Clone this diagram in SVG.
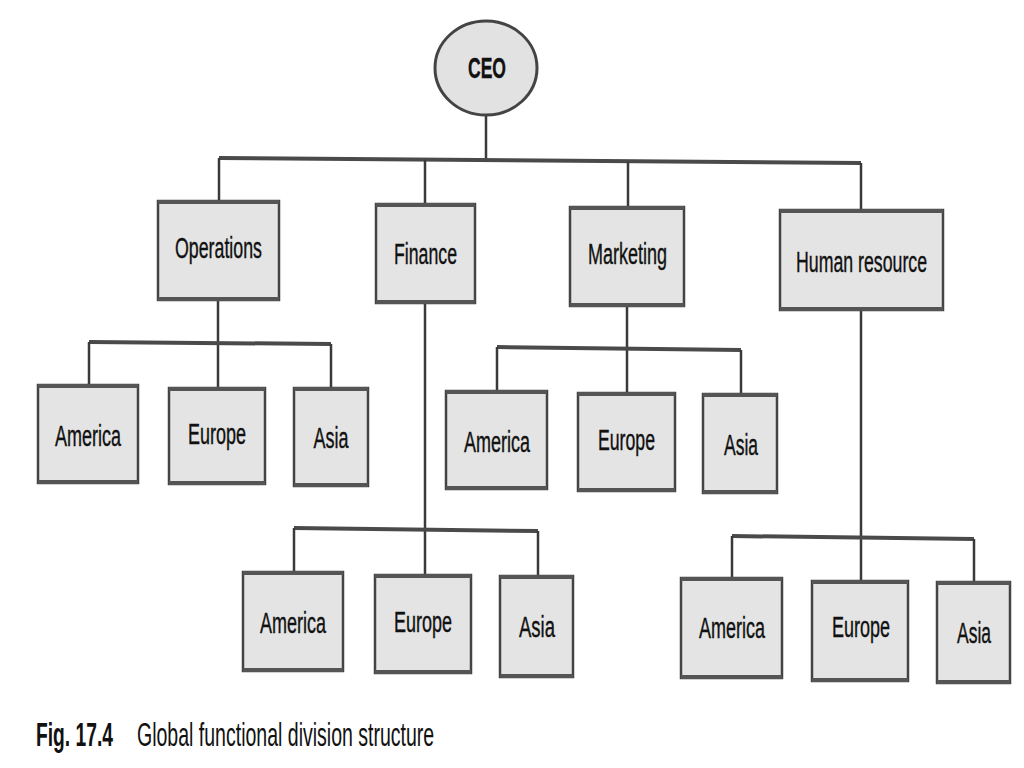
<svg xmlns="http://www.w3.org/2000/svg" width="1024" height="768" viewBox="0 0 1024 768">
<style>
.box{fill:#e4e4e4;stroke:#444;stroke-width:2.5}
.edge{stroke:#555;stroke-width:4;fill:none}
.ceo{fill:#e2e2e2;stroke:#444;stroke-width:3}
.lbl{font-family:"Liberation Sans",Arial,sans-serif;font-size:30px;fill:#111;stroke:#111;stroke-width:0.4}
.bold{font-weight:bold}
.con{stroke:#3a3a3a;stroke-width:2.5;fill:none}
.bus{stroke:#4a4a4a;stroke-width:4;fill:none}
.cap{font-family:"Liberation Sans",Arial,sans-serif;font-size:34px;fill:#111}
</style>
<rect width="1024" height="768" fill="#ffffff"/>
<g id="connectors">
<path class="con" d="M486 115 V160"/>
<path class="bus" d="M219 158 L861 163"/>
<path class="con" d="M219 158 V201 M425 160 V204 M628 162 V207 M861 163 V210"/>
<path class="con" d="M218 300 V388"/>
<path class="bus" d="M89 342 L331 344"/>
<path class="con" d="M89 342 V385 M331 344 V388"/>
<path class="con" d="M425 303 V575"/>
<path class="bus" d="M294 528 L538 531"/>
<path class="con" d="M294 528 V572 M538 531 V576"/>
<path class="con" d="M627 306 V393"/>
<path class="bus" d="M497 347 L741 350"/>
<path class="con" d="M497 347 V391 M741 350 V394"/>
<path class="con" d="M861 310 V581"/>
<path class="bus" d="M732 536 L974 539"/>
<path class="con" d="M732 536 V578 M974 539 V582"/>
</g>
<g id="ceo">
<ellipse class="ceo" cx="486" cy="68" rx="51" ry="47"/>
<text class="lbl bold" x="487" y="78" text-anchor="middle" textLength="38" lengthAdjust="spacingAndGlyphs">CEO</text>
</g>
<g id="operations">
<rect class="box" x="158" y="201" width="121" height="99"/>
<path class="edge" d="M158 202 H279 M158 299 H279"/>
<text class="lbl" x="218.5" y="258" text-anchor="middle" textLength="87" lengthAdjust="spacingAndGlyphs">Operations</text>
</g>
<g id="finance">
<rect class="box" x="376" y="204" width="99" height="99"/>
<path class="edge" d="M376 205 H475 M376 302 H475"/>
<text class="lbl" x="425.5" y="264" text-anchor="middle" textLength="63" lengthAdjust="spacingAndGlyphs">Finance</text>
</g>
<g id="marketing">
<rect class="box" x="570" y="207" width="114" height="99"/>
<path class="edge" d="M570 208 H684 M570 305 H684"/>
<text class="lbl" x="627.5" y="264" text-anchor="middle" textLength="79" lengthAdjust="spacingAndGlyphs">Marketing</text>
</g>
<g id="human-resource">
<rect class="box" x="780" y="210" width="163" height="100"/>
<path class="edge" d="M780 211 H943 M780 309 H943"/>
<text class="lbl" x="861.5" y="272" text-anchor="middle" textLength="131" lengthAdjust="spacingAndGlyphs">Human resource</text>
</g>
<g id="ops-america">
<rect class="box" x="38" y="385" width="100" height="98"/>
<path class="edge" d="M38 386 H138 M38 482 H138"/>
<text class="lbl" x="88" y="446" text-anchor="middle" textLength="66" lengthAdjust="spacingAndGlyphs">America</text>
</g>
<g id="ops-europe">
<rect class="box" x="169" y="388" width="96" height="96"/>
<path class="edge" d="M169 389 H265 M169 483 H265"/>
<text class="lbl" x="217" y="444" text-anchor="middle" textLength="58" lengthAdjust="spacingAndGlyphs">Europe</text>
</g>
<g id="ops-asia">
<rect class="box" x="294" y="388" width="74" height="98"/>
<path class="edge" d="M294 389 H368 M294 485 H368"/>
<text class="lbl" x="331" y="448" text-anchor="middle" textLength="35" lengthAdjust="spacingAndGlyphs">Asia</text>
</g>
<g id="mkt-america">
<rect class="box" x="446" y="391" width="101" height="98"/>
<path class="edge" d="M446 392 H547 M446 488 H547"/>
<text class="lbl" x="497" y="452" text-anchor="middle" textLength="66" lengthAdjust="spacingAndGlyphs">America</text>
</g>
<g id="mkt-europe">
<rect class="box" x="578" y="393" width="97" height="98"/>
<path class="edge" d="M578 394 H675 M578 490 H675"/>
<text class="lbl" x="626.5" y="450" text-anchor="middle" textLength="57" lengthAdjust="spacingAndGlyphs">Europe</text>
</g>
<g id="mkt-asia">
<rect class="box" x="703" y="394" width="74" height="99"/>
<path class="edge" d="M703 395 H777 M703 492 H777"/>
<text class="lbl" x="741" y="455" text-anchor="middle" textLength="34" lengthAdjust="spacingAndGlyphs">Asia</text>
</g>
<g id="fin-america">
<rect class="box" x="243" y="572" width="100" height="99"/>
<path class="edge" d="M243 573 H343 M243 670 H343"/>
<text class="lbl" x="293" y="633" text-anchor="middle" textLength="66" lengthAdjust="spacingAndGlyphs">America</text>
</g>
<g id="fin-europe">
<rect class="box" x="375" y="575" width="96" height="98"/>
<path class="edge" d="M375 576 H471 M375 672 H471"/>
<text class="lbl" x="423" y="632" text-anchor="middle" textLength="58" lengthAdjust="spacingAndGlyphs">Europe</text>
</g>
<g id="fin-asia">
<rect class="box" x="500" y="576" width="73" height="101"/>
<path class="edge" d="M500 577 H573 M500 676 H573"/>
<text class="lbl" x="537" y="637" text-anchor="middle" textLength="36" lengthAdjust="spacingAndGlyphs">Asia</text>
</g>
<g id="hr-america">
<rect class="box" x="681" y="578" width="101" height="100"/>
<path class="edge" d="M681 579 H782 M681 677 H782"/>
<text class="lbl" x="732" y="638" text-anchor="middle" textLength="66" lengthAdjust="spacingAndGlyphs">America</text>
</g>
<g id="hr-europe">
<rect class="box" x="812" y="581" width="96" height="100"/>
<path class="edge" d="M812 582 H908 M812 680 H908"/>
<text class="lbl" x="861" y="637" text-anchor="middle" textLength="58" lengthAdjust="spacingAndGlyphs">Europe</text>
</g>
<g id="hr-asia">
<rect class="box" x="937" y="582" width="73" height="101"/>
<path class="edge" d="M937 583 H1010 M937 682 H1010"/>
<text class="lbl" x="974" y="643" text-anchor="middle" textLength="34" lengthAdjust="spacingAndGlyphs">Asia</text>
</g>
<g id="caption">
<text class="cap bold" transform="translate(36 746) scale(0.566 1)">Fig. 17.4</text>
<text class="cap" transform="translate(137 746) scale(0.574 1)">Global functional division structure</text>
</g>
</svg>
